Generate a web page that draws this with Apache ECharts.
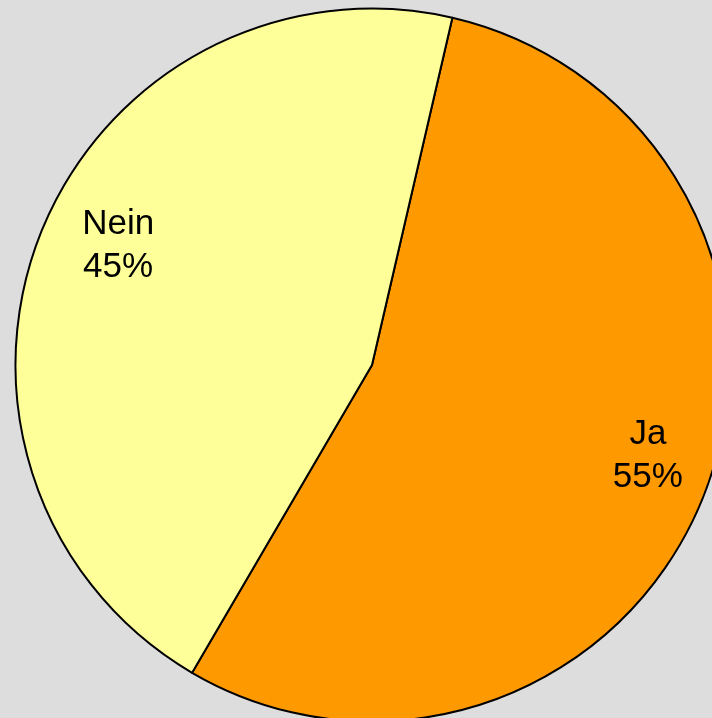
<!DOCTYPE html>
<html>
<head>
<meta charset="utf-8">
<script src="https://cdn.jsdelivr.net/npm/echarts@6/dist/echarts.min.js"></script>
<style>
html,body{margin:0;padding:0;background:#dddddd;}
#chart{width:712px;height:718px;}
</style>
</head>
<body>
<div id="chart"></div>
<script>
const categories = ['Ja', 'Nein'];
const values = [54.8, 45.2];
const colors = ['#ff9900', '#ffff99'];

const chart = echarts.init(document.getElementById('chart'), null, {renderer: 'canvas'});
const data = categories.map((c, i) => ({name: c, value: values[i], itemStyle: {color: colors[i]}}));
const center = [372, 365];
const startAngle = 90 - 13.03;
chart.setOption({
  backgroundColor: '#dddddd',
  animation: false,
  series: [
    {
      type: 'pie',
      center: center,
      radius: [0, 356.5],
      startAngle: startAngle,
      clockwise: true,
      percentPrecision: 0,
      silent: true,
      itemStyle: {borderColor: '#000', borderWidth: 2},
      label: {show: false},
      labelLine: {show: false},
      data: data
    },
    {
      type: 'pie',
      center: center,
      radius: [0, 564],
      startAngle: startAngle,
      clockwise: true,
      percentPrecision: 0,
      silent: true,
      itemStyle: {color: 'rgba(0,0,0,0)', borderWidth: 0},
      label: {
        show: true,
        position: 'inside',
        formatter: '{b}\n{d}%',
        fontFamily: 'Liberation Sans, Arial, sans-serif',
        fontSize: 35,
        lineHeight: 43,
        color: '#000',
        align: 'center',
        offset: [11, -14]
      },
      labelLine: {show: false},
      data: categories.map((c, i) => ({name: c, value: values[i]}))
    }
  ]
});
</script>
</body>
</html>
